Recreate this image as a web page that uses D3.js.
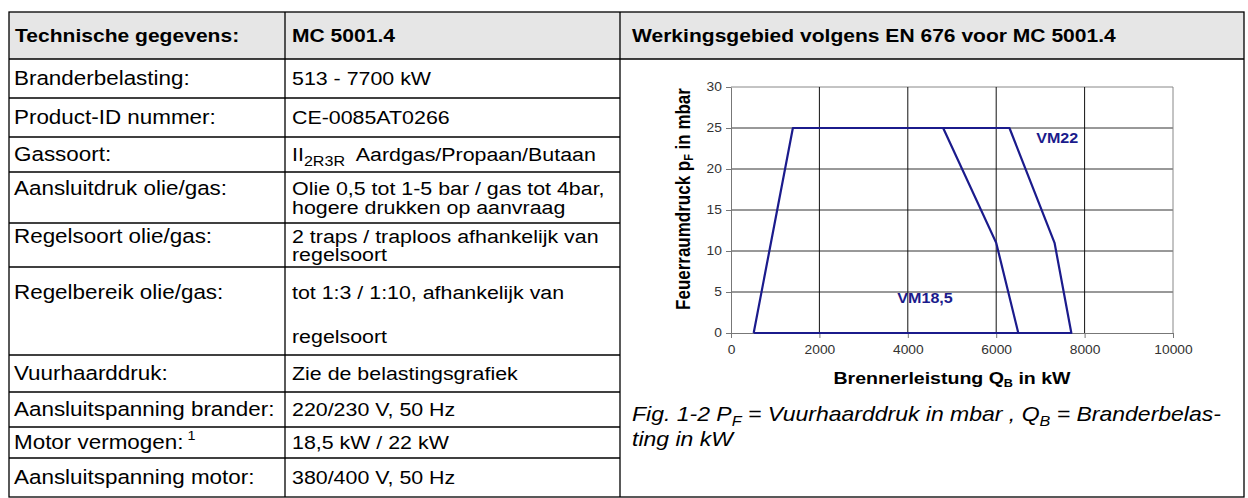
<!DOCTYPE html>
<html>
<head>
<meta charset="utf-8">
<script src="https://cdn.jsdelivr.net/npm/d3@7"></script>
<style>
  body { margin: 0; background: #fff; }
  svg { display: block; font-family: 'Liberation Sans', Arial, sans-serif; }
</style>
</head>
<body>
<script>
// table contents
const headerLeft = 'Technische gegevens:';
const headerMid = 'MC 5001.4';
const headerRight = 'Werkingsgebied volgens EN 676 voor MC 5001.4';

const rowLabels = [
  'Branderbelasting:',
  'Product-ID nummer:',
  'Gassoort:',
  'Aansluitdruk olie/gas:',
  'Regelsoort olie/gas:',
  'Regelbereik olie/gas:',
  'Vuurhaarddruk:',
  'Aansluitspanning brander:',
  'Motor vermogen:',
  'Aansluitspanning motor:',
];
const rowValues = [
  ['513 - 7700 kW'],
  ['CE-0085AT0266'],
  ['II|2R3R|  Aardgas/Propaan/Butaan'], // middle part is subscript
  ['Olie 0,5 tot 1-5 bar / gas tot 4bar,', 'hogere drukken op aanvraag'],
  ['2 traps / traploos afhankelijk van', 'regelsoort'],
  ['tot 1:3 / 1:10, afhankelijk  van', 'regelsoort'],
  ['Zie de belastingsgrafiek'],
  ['220/230 V, 50 Hz'],
  ['18,5 kW / 22 kW'],
  ['380/400 V, 50 Hz'],
];

// chart data: Brennerleistung (kW) vs Feuerraumdruck (mbar)
const vm22Load = [513, 1400, 6300, 7320, 7700, 513];
const vm22Pressure = [0, 25, 25, 11, 0, 0];
const vm185Load = [4800, 6000, 6500];
const vm185Pressure = [25, 11, 0];
const xTicks = [0, 2000, 4000, 6000, 8000, 10000];
const yTicks = [0, 5, 10, 15, 20, 25, 30];

// layout
const W = 1248, H = 498;
const SX = 1.15; // the source text is a little wider than it is tall
const colX = [9, 285, 620, 1244];
const headTop = 12, headBottom = 59;
const rowEdges = [59, 98, 137, 172, 223, 267, 355, 392, 427, 458, 497];
const lineGaps = [0, 0, 0, 19, 18, 44, 0, 0, 0, 0];
const rowShift = [0, 0, 0, 0, 0, 3, 0, 0, 0, 0];
const NAVY = '#1b1b8c';

const svg = d3.select('body').append('svg')
  .attr('width', W)
  .attr('height', H);

function put(sel, x, y) {
  return sel.attr('transform', `translate(${x},${y}) scale(${SX},1)`);
}

// header background
svg.append('rect')
  .attr('x', colX[0]).attr('y', headTop)
  .attr('width', colX[3] - colX[0]).attr('height', headBottom - headTop)
  .attr('fill', '#e6e6e6');

const borders = svg.append('g')
  .attr('stroke', '#000')
  .attr('stroke-width', 1.3)
  .attr('fill', 'none');

borders.append('rect')
  .attr('x', colX[0]).attr('y', headTop)
  .attr('width', colX[3] - colX[0]).attr('height', rowEdges[rowEdges.length - 1] - headTop);
borders.append('line')
  .attr('x1', colX[0]).attr('x2', colX[3])
  .attr('y1', headBottom).attr('y2', headBottom);
colX.slice(1, 3).forEach(cx => {
  borders.append('line')
    .attr('x1', cx).attr('x2', cx)
    .attr('y1', headTop).attr('y2', rowEdges[rowEdges.length - 1]);
});
rowEdges.slice(1, -1).forEach(ry => {
  borders.append('line')
    .attr('x1', colX[0]).attr('x2', colX[2])
    .attr('y1', ry).attr('y2', ry);
});

// header texts
const headY = (headTop + headBottom) / 2 + 6.5;
[[headerLeft, colX[0] + 6], [headerMid, colX[1] + 7], [headerRight, colX[2] + 12]].forEach(([t, tx]) => {
  put(svg.append('text'), tx, headY)
    .attr('font-size', 18.3)
    .attr('font-weight', 'bold')
    .attr('fill', '#000')
    .text(t);
});

// body rows
rowLabels.forEach((label, i) => {
  const top = rowEdges[i], bottom = rowEdges[i + 1];
  const lines = rowValues[i];
  const gap = lineGaps[i];
  const first = (lines.length > 1
    ? (top + bottom) / 2 - gap / 2 + 6.5
    : (top + bottom) / 2 + 6.5) + rowShift[i];

  const lt = put(svg.append('text'), colX[0] + 5, first)
    .attr('font-size', 19.5)
    .text(label);
  if (label.startsWith('Motor')) {
    lt.append('tspan').attr('font-size', 12.5).attr('dy', -9).text('  1');
  }

  lines.forEach((ln, j) => {
    const t = put(svg.append('text'), colX[1] + 7, first + j * gap)
      .attr('font-size', 18.6);
    if (ln.includes('|')) {
      const [a, sub, b] = ln.split('|');
      t.append('tspan').text(a);
      t.append('tspan').attr('font-size', 14).attr('dy', 5).text(sub);
      t.append('tspan').attr('dy', -5).attr('xml:space', 'preserve').text(b);
    } else {
      t.text(ln);
    }
  });
});

// ---------- chart ----------
const x = d3.scaleLinear().domain([0, 10000]).range([731, 1173]);
const y = d3.scaleLinear().domain([0, 30]).range([333, 87]);

const chart = svg.append('g');

// grid
chart.append('g')
  .selectAll('line')
  .data(yTicks.filter(d => d > 0))
  .join('line')
  .attr('x1', x(0)).attr('x2', x(10000))
  .attr('y1', d => y(d)).attr('y2', d => y(d))
  .attr('stroke', d => d === 30 ? '#888' : '#333')
  .attr('stroke-width', 1);
chart.append('g')
  .selectAll('line')
  .data(xTicks.filter(d => d > 0))
  .join('line')
  .attr('x1', d => x(d)).attr('x2', d => x(d))
  .attr('y1', y(0)).attr('y2', y(30))
  .attr('stroke', d => d === 10000 ? '#888' : '#111')
  .attr('stroke-width', 1);

const yAxis = chart.append('g')
  .attr('transform', `translate(${x(0)},0)`)
  .call(d3.axisLeft(y).tickValues(yTicks).tickSize(5).tickSizeOuter(0).tickPadding(3));
const xAxis = chart.append('g')
  .attr('transform', `translate(0,${y(0)})`)
  .call(d3.axisBottom(x).tickValues(xTicks).tickSize(5).tickSizeOuter(0).tickPadding(7).tickFormat(d3.format('d')));

[yAxis, xAxis].forEach(ax => {
  ax.select('.domain').attr('stroke', '#777');
  ax.selectAll('.tick line').attr('stroke', '#777');
  ax.selectAll('.tick text')
    .attr('font-family', "'Liberation Sans', Arial, sans-serif")
    .attr('font-size', 12)
    .attr('fill', '#333')
    .attr('transform', `scale(${SX},1)`);
});

const line = d3.line()
  .x(d => x(d[0]))
  .y(d => y(d[1]));

chart.append('path')
  .datum(d3.zip(vm22Load, vm22Pressure))
  .attr('d', line)
  .attr('fill', 'none')
  .attr('stroke', NAVY)
  .attr('stroke-width', 2.2)
  .attr('stroke-linejoin', 'round');
chart.append('path')
  .datum(d3.zip(vm185Load, vm185Pressure))
  .attr('d', line)
  .attr('fill', 'none')
  .attr('stroke', NAVY)
  .attr('stroke-width', 2.2);

put(chart.append('text'), x(7380), y(23.2))
  .attr('text-anchor', 'middle')
  .attr('font-size', 14).attr('font-weight', 'bold')
  .attr('fill', NAVY)
  .text('VM22');
put(chart.append('text'), x(4390), y(3.7))
  .attr('text-anchor', 'middle')
  .attr('font-size', 14).attr('font-weight', 'bold')
  .attr('fill', NAVY)
  .text('VM18,5');

// axis titles
const yTitle = chart.append('text')
  .attr('transform', `translate(690,${(y(0) + y(30)) / 2 - 11}) scale(${SX},1) rotate(-90)`)
  .attr('text-anchor', 'middle')
  .attr('font-size', 17).attr('font-weight', 'bold');
yTitle.append('tspan').text('Feuerraumdruck p');
yTitle.append('tspan').attr('font-size', 11).attr('dy', 3).text('F');
yTitle.append('tspan').attr('dy', -3).text(' in mbar');

const xTitle = put(chart.append('text'), (x(0) + x(10000)) / 2, 384)
  .attr('text-anchor', 'middle')
  .attr('font-size', 17).attr('font-weight', 'bold');
xTitle.append('tspan').text('Brennerleistung Q');
xTitle.append('tspan').attr('font-size', 11).attr('dy', 3).text('B');
xTitle.append('tspan').attr('dy', -3).text(' in kW');

// caption
const cap1 = put(svg.append('text'), colX[2] + 12, 421)
  .attr('font-size', 20).attr('font-style', 'italic');
cap1.append('tspan').text('Fig. 1-2 P');
cap1.append('tspan').attr('font-size', 14).attr('dy', 5).text('F');
cap1.append('tspan').attr('dy', -5).text(' = Vuurhaarddruk in mbar , Q');
cap1.append('tspan').attr('font-size', 14).attr('dy', 5).text('B');
cap1.append('tspan').attr('dy', -5).text(' = Branderbelas-');
put(svg.append('text'), colX[2] + 12, 446)
  .attr('font-size', 20).attr('font-style', 'italic')
  .text('ting in kW');
</script>
</body>
</html>
